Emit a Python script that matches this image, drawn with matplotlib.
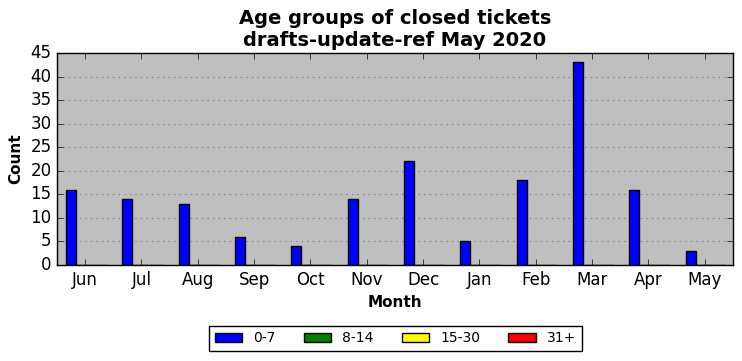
import matplotlib
matplotlib.use("Agg")
import matplotlib.pyplot as plt
import numpy as np

plt.style.use("classic")

months = ["Jun", "Jul", "Aug", "Sep", "Oct", "Nov", "Dec", "Jan", "Feb", "Mar", "Apr", "May"]
series_names = ["0-7", "8-14", "15-30", "31+"]
v_0_7 = [16, 14, 13, 6, 4, 14, 22, 5, 18, 43, 16, 3]
v_8_14 = [0] * 12
v_15_30 = [0] * 12
v_31p = [0] * 12
colors = ["blue", "green", "yellow", "red"]

fig = plt.figure(figsize=(7.42, 3.61), dpi=100)
fig.patch.set_facecolor("white")
ax = fig.add_axes([0.0768, 0.266, 0.911, 0.587])
ax.set_facecolor("#bfbfbf")

x = np.arange(len(months))
w = 0.18
for k, (name, vals, c) in enumerate(zip(series_names, [v_0_7, v_8_14, v_15_30, v_31p], colors)):
    ax.bar(x - 0.25 + k * w, vals, width=w, align="center", color=c,
           edgecolor="black", linewidth=1.0, label=name, zorder=3)

ax.set_xlim(-0.5, 11.5)
ax.set_ylim(0, 45)
ax.set_yticks(range(0, 46, 5))
ax.set_xticks(x)
ax.set_xticklabels(months, fontsize=12)
ax.tick_params(axis="y", labelsize=12)
ax.yaxis.grid(True, linestyle=":", color="gray", linewidth=0.8, zorder=0)
ax.xaxis.grid(False)
ax.set_axisbelow(True)

ax.set_title("Age groups of closed tickets\ndrafts-update-ref May 2020",
             fontsize=14, fontweight="bold")
ax.set_xlabel("Month", fontsize=11, fontweight="bold")
ax.set_ylabel("Count", fontsize=11, fontweight="bold")

leg = fig.legend(loc="center", bbox_to_anchor=(0.533, 0.063),
                 ncol=4, fontsize=10,
                 frameon=True, fancybox=False, handlelength=2.0, columnspacing=2.0)
leg.get_frame().set_edgecolor("black")

fig.savefig("out.png", dpi=100, facecolor="white")
